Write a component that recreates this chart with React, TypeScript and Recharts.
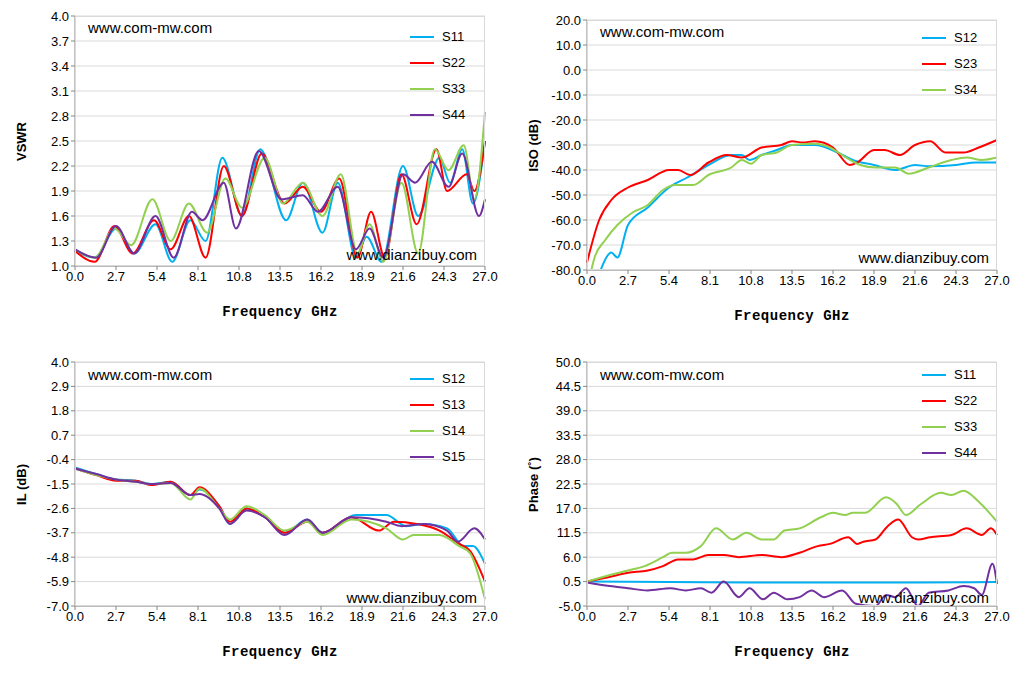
import { LineChart, Line, XAxis, YAxis, CartesianGrid } from 'recharts'

type Pt = [number, number]

const freqTicks = [0, 2.7, 5.4, 8.1, 10.8, 13.5, 16.2, 18.9, 21.6, 24.3, 27.0]
const vswrTicks = [1.0, 1.3, 1.6, 1.9, 2.2, 2.5, 2.8, 3.1, 3.4, 3.7, 4.0]
const isoTicks = [-80, -70, -60, -50, -40, -30, -20, -10, 0, 10, 20]
const ilTicks = [-7.0, -5.9, -4.8, -3.7, -2.6, -1.5, -0.4, 0.7, 1.8, 2.9, 4.0]
const phaseTicks = [-5.0, 0.5, 6.0, 11.5, 17.0, 22.5, 28.0, 33.5, 39.0, 44.5, 50.0]

const COLORS = { blue: '#00b0f0', red: '#ff0000', green: '#92d050', purple: '#7030a0' }

// VSWR
const s11v: Pt[] = [[0, 1.18], [1.3, 1.1], [2.7, 1.45], [3.9, 1.15], [5.3, 1.5], [6.4, 1.05], [7.6, 1.55], [8.6, 1.3], [9.7, 2.3], [11, 1.6], [12.2, 2.4], [13.9, 1.55], [15, 2.0], [16.3, 1.4], [17.3, 2.0], [18.5, 1.1], [19.2, 1.35], [20.2, 1.05], [21.6, 2.2], [22.6, 1.6], [24.0, 2.3], [24.7, 2.0], [25.5, 2.4], [26.2, 1.75], [27, 2.5]]
const s22v: Pt[] = [[0, 1.18], [1.3, 1.05], [2.6, 1.48], [3.8, 1.15], [5.2, 1.55], [6.3, 1.2], [7.5, 1.6], [8.6, 1.1], [9.8, 2.2], [11, 1.6], [12.3, 2.35], [13.8, 1.75], [15, 1.95], [16.2, 1.65], [17.4, 2.05], [18.6, 1.1], [19.5, 1.65], [20.4, 1.1], [21.5, 2.1], [22.5, 1.5], [23.8, 2.4], [24.5, 1.9], [25.8, 2.1], [26.3, 1.9], [27, 2.5]]
const s33v: Pt[] = [[0, 1.2], [1.3, 1.1], [2.6, 1.45], [3.7, 1.25], [5.1, 1.8], [6.3, 1.3], [7.5, 1.75], [8.7, 1.4], [9.9, 2.05], [11, 1.7], [12.5, 2.3], [13.7, 1.75], [15, 2.0], [16.3, 1.6], [17.5, 2.1], [18.6, 1.15], [19.4, 1.5], [20.3, 1.05], [21.5, 2.0], [22.6, 1.15], [23.7, 2.4], [24.6, 2.15], [25.6, 2.45], [26.3, 1.8], [27, 2.85]]
const s44v: Pt[] = [[0, 1.2], [1.4, 1.1], [2.7, 1.48], [3.9, 1.15], [5.3, 1.6], [6.5, 1.1], [7.7, 1.65], [8.4, 1.55], [9.8, 2.0], [10.6, 1.45], [12.1, 2.38], [13.6, 1.8], [15, 1.85], [16, 1.65], [17.3, 1.95], [18.5, 1.2], [19.4, 1.45], [20.3, 1.1], [21.6, 2.1], [22.4, 2.0], [23.5, 2.25], [24.6, 1.95], [25.5, 2.35], [26.6, 1.6], [27, 1.8]]

// ISO
const s12i: Pt[] = [[0.4, -90], [0.9, -80], [1.6, -73], [2.0, -75], [2.7, -62], [4, -55], [5.4, -47], [6.6, -43], [8, -38], [9.5, -34], [10.2, -34], [10.7, -36], [11.5, -34], [12.5, -32], [13.5, -30], [15, -30], [16.5, -33], [17.5, -36], [18.9, -38], [20.3, -40], [21.6, -38], [22.5, -38.5], [24.3, -38], [25.6, -37], [27, -37]]
const s23i: Pt[] = [[0, -77], [0.8, -60], [1.6, -52], [2.7, -47], [4, -44], [5.4, -40], [6, -40], [6.8, -42], [8, -37], [9.2, -34], [10.2, -35], [11.5, -31], [12.8, -30], [13.5, -28.5], [14.2, -29], [15, -28.5], [16.2, -31], [17.3, -38], [17.8, -37], [18.9, -32], [19.6, -32], [20.6, -34], [21.6, -30], [22.6, -28.5], [23.6, -33], [24.8, -33], [25.8, -31], [27, -28]]
const s34i: Pt[] = [[0, -88], [0.5, -75], [1.2, -68], [2, -62], [3, -57], [4, -54], [5, -48], [5.8, -46], [7, -46], [8, -42], [9.5, -39], [10.2, -36], [10.8, -37.5], [11.5, -34], [12.5, -33], [13.5, -30], [15, -29.5], [16, -31], [16.8, -34], [18, -38], [19, -39], [20.3, -39], [21.2, -41.5], [22.5, -39], [24, -36], [25, -35], [26, -36], [27, -35]]

// IL
const s12l: Pt[] = [[0, -0.75], [1.4, -1.05], [2.7, -1.3], [4, -1.35], [5, -1.5], [6.3, -1.4], [7.6, -2.0], [8.2, -1.75], [9.5, -2.5], [10.2, -3.3], [11.3, -2.6], [12.5, -3.0], [13.8, -3.7], [15.3, -3.1], [16.3, -3.7], [18.5, -2.9], [20.5, -2.9], [21.8, -3.4], [23, -3.3], [24.5, -3.5], [25.6, -4.3], [26.2, -4.3], [27, -5.1]]
const s13l: Pt[] = [[0, -0.8], [1.4, -1.1], [2.7, -1.35], [4, -1.35], [5, -1.55], [6.3, -1.4], [7.6, -2.0], [8.2, -1.65], [9.5, -2.5], [10.2, -3.2], [11.3, -2.6], [12.5, -3.0], [13.8, -3.7], [15.3, -3.2], [16.3, -3.7], [18.2, -3.0], [20, -3.6], [21, -3.2], [22.5, -3.3], [24, -3.6], [25.3, -4.2], [26, -4.5], [27, -5.9]]
const s14l: Pt[] = [[0, -0.8], [1.4, -1.1], [2.7, -1.3], [4, -1.4], [5, -1.5], [6.3, -1.45], [7.6, -2.2], [8.2, -1.7], [9.5, -2.6], [10.2, -3.1], [11.3, -2.5], [12.5, -2.9], [13.8, -3.6], [15.3, -3.2], [16.3, -3.8], [18.2, -3.1], [20.5, -3.5], [21.6, -4.0], [22.3, -3.8], [24, -3.8], [25.3, -4.3], [26, -4.6], [27, -6.7]]
const s15l: Pt[] = [[0, -0.8], [1.4, -1.05], [2.7, -1.3], [4, -1.4], [5, -1.5], [6.3, -1.45], [7.6, -2.0], [8.2, -1.95], [9.5, -2.6], [10.2, -3.3], [11.3, -2.7], [12.5, -3.0], [13.8, -3.8], [15.3, -3.1], [16.3, -3.7], [18.2, -3.0], [20.5, -3.2], [21.5, -3.4], [23, -3.3], [24.5, -3.6], [25.2, -4.1], [26.3, -3.5], [27, -4.0]]

// Phase
const s11p: Pt[] = [[0, 0.5], [5.4, 0.4], [10.8, 0.3], [16.2, 0.3], [21.6, 0.3], [27, 0.4]]
const s22p: Pt[] = [[0, 0.5], [1.4, 1.5], [2.7, 2.5], [4, 3], [5, 4], [6, 5.5], [7, 5.5], [8, 6.5], [9, 6.5], [10, 6], [11.5, 6.5], [12.8, 6], [14, 7], [15.2, 8.5], [16, 9], [17.2, 10.5], [17.8, 9], [18.2, 9.5], [19, 10], [19.8, 13], [20.5, 14.5], [21.4, 10.5], [21.8, 10], [22.6, 10.5], [24, 11], [25, 12.5], [26, 11], [26.6, 12.5], [27, 11]]
const s33p: Pt[] = [[0, 0.5], [1.5, 2], [2.7, 3], [3.8, 4], [5, 6], [5.6, 7], [6.5, 7], [7.5, 8.5], [8.5, 12.5], [9.6, 10], [10.5, 11.5], [11.5, 10], [12.3, 10], [13, 12], [14, 12.5], [15.4, 15], [16.2, 16], [17, 15.5], [17.5, 16], [18.3, 16], [19.7, 19.5], [20.4, 18], [21, 15.5], [22, 18], [23.3, 20.5], [24, 20], [24.8, 21], [25.8, 18.5], [26.5, 16], [27, 14]]
const s44p: Pt[] = [[0, 0.3], [1.5, -0.5], [2.7, -1], [4, -1.5], [5.5, -1], [6.5, -1.5], [7.5, -1], [8.2, -2], [9, 0.5], [10, -3], [10.7, -1], [11.6, -3.5], [12.3, -2], [13.2, -3.5], [14, -3], [14.8, -1.5], [15.6, -3], [16.8, -1.5], [17.7, -4.5], [19, -5], [19.7, -2.5], [20.3, -3], [21, -1], [21.8, -5], [22.5, -2], [23.8, -1.5], [24.8, -0.5], [25.5, -1], [26, -2.5], [26.7, 4.5], [27, 0]]

type Series = { name: string; color: string; data: Pt[] }

const SANS = "'Liberation Sans', Arial, sans-serif"
const tickStyle = { fontSize: 13, fill: '#000', fontFamily: SANS }

function Panel({ left, top, plotTop, plotBottom, ticks, fmt, yLabel, series, legendTop, wmTop, wmBottom }: {
    left: number; top: number; plotTop: number; plotBottom: number; ticks: number[]; fmt: (v: number) => string
    yLabel: string; series: Series[]; legendTop: number; wmTop: number; wmBottom: number
}) {
    const H = 340
    const mTop = plotTop - top
    const mBottom = H - (plotBottom - top) - 30
    return (
        <div style={{ position: 'absolute', left, top, width: 515, height: H }}>
            <LineChart width={515} height={H} margin={{ top: mTop, right: 30, left: 30, bottom: mBottom }}>
                <CartesianGrid stroke="#d9d9d9" vertical={false} />
                <XAxis type="number" dataKey="0" domain={[0, 27]} ticks={freqTicks} tickFormatter={(v) => v.toFixed(1)}
                    tick={tickStyle} stroke="#868686" tickSize={4} height={30} allowDuplicatedCategory={false} />
                <YAxis type="number" domain={[ticks[0], ticks[ticks.length - 1]]} ticks={ticks} tickFormatter={fmt}
                    tick={tickStyle} stroke="#868686" tickSize={4} width={45} allowDataOverflow />
                {series.map((s) => (
                    <Line key={s.name} data={s.data} dataKey="1" type="monotone" stroke={s.color} strokeWidth={2}
                        dot={false} isAnimationActive={false} />
                ))}
            </LineChart>
            <div style={{ position: 'absolute', left: 75, top: mTop, width: 410, height: plotBottom - plotTop, border: '1px solid #d9d9d9', boxSizing: 'border-box', pointerEvents: 'none' }} />
            <div style={{ position: 'absolute', left: 6, top: mTop, width: 30, height: plotBottom - plotTop, display: 'flex', alignItems: 'center', justifyContent: 'center' }}>
                <div style={{ transform: 'rotate(-90deg)', whiteSpace: 'nowrap', fontWeight: 700, fontSize: 13, fontFamily: SANS }}>{yLabel}</div>
            </div>
            <div style={{ position: 'absolute', left: 75, width: 410, top: plotBottom - top + 38, textAlign: 'center', fontWeight: 700, fontSize: 14, letterSpacing: 0.5, fontFamily: "'Liberation Mono', 'DejaVu Sans Mono', monospace" }}>Frequency GHz</div>
            <div style={{ position: 'absolute', left: 88, top: wmTop - top, fontSize: 15, fontFamily: SANS }}>www.com-mw.com</div>
            <div style={{ position: 'absolute', right: 38, top: wmBottom - top, fontSize: 15, fontFamily: SANS }}>www.dianzibuy.com</div>
            {series.map((s, i) => (
                <div key={s.name} style={{ position: 'absolute', left: 410, top: legendTop - top + i * 26, display: 'flex', alignItems: 'center', gap: 8, fontSize: 13, fontFamily: SANS }}>
                    <div style={{ width: 24, height: 2, background: s.color }} />
                    <span>{s.name}</span>
                </div>
            ))}
        </div>
    )
}

export default function App() {
    return (
        <div style={{ position: 'absolute', left: 0, top: 0, width: 1033, height: 680, background: '#fff' }}>
            <Panel left={0} top={0} plotTop={16} plotBottom={266} ticks={vswrTicks} fmt={(v) => v.toFixed(1)} yLabel="VSWR"
                legendTop={29} wmTop={19} wmBottom={246}
                series={[{ name: 'S11', color: COLORS.blue, data: s11v }, { name: 'S22', color: COLORS.red, data: s22v }, { name: 'S33', color: COLORS.green, data: s33v }, { name: 'S44', color: COLORS.purple, data: s44v }]} />
            <Panel left={512} top={0} plotTop={20} plotBottom={270} ticks={isoTicks} fmt={(v) => v.toFixed(1)} yLabel="ISO (dB)"
                legendTop={30} wmTop={23} wmBottom={249}
                series={[{ name: 'S12', color: COLORS.blue, data: s12i }, { name: 'S23', color: COLORS.red, data: s23i }, { name: 'S34', color: COLORS.green, data: s34i }]} />
            <Panel left={0} top={346} plotTop={362} plotBottom={606} ticks={ilTicks} fmt={(v) => v.toFixed(1)} yLabel="IL (dB)"
                legendTop={371} wmTop={366} wmBottom={589}
                series={[{ name: 'S12', color: COLORS.blue, data: s12l }, { name: 'S13', color: COLORS.red, data: s13l }, { name: 'S14', color: COLORS.green, data: s14l }, { name: 'S15', color: COLORS.purple, data: s15l }]} />
            <Panel left={512} top={346} plotTop={362} plotBottom={606} ticks={phaseTicks} fmt={(v) => v.toFixed(1)} yLabel="Phase (˚)"
                legendTop={367} wmTop={366} wmBottom={589}
                series={[{ name: 'S11', color: COLORS.blue, data: s11p }, { name: 'S22', color: COLORS.red, data: s22p }, { name: 'S33', color: COLORS.green, data: s33p }, { name: 'S44', color: COLORS.purple, data: s44p }]} />
        </div>
    )
}
